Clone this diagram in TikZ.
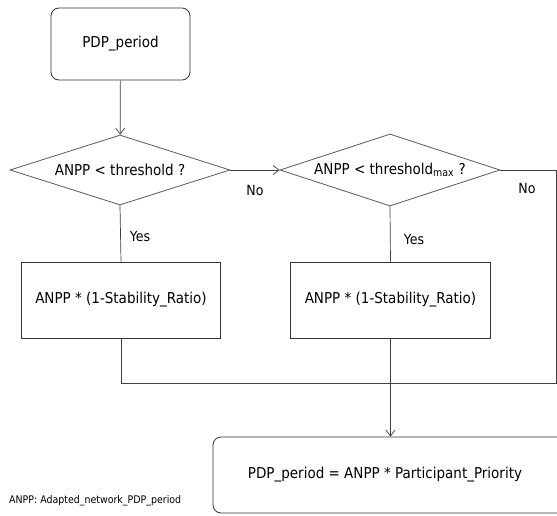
\documentclass[tikz,border=0pt]{standalone}
\usepackage{fontspec}
\setmainfont{DejaVu Sans Condensed}
\usetikzlibrary{shapes.geometric,arrows.meta}
\begin{document}
\begin{tikzpicture}[x=1pt,y=-1pt,
  every node/.style={font=\fontsize{15}{17}\selectfont, text=black},
  rbox/.style={draw=black!80, line width=0.8pt, rounded corners=8pt, inner sep=0pt},
  sbox/.style={draw=black!80, line width=0.8pt, inner sep=0pt},
  dia/.style={diamond, draw=black!65, line width=0.8pt, inner sep=0pt, aspect=3.1},
  lbl/.style={font=\fontsize{14}{16}\selectfont, inner sep=0pt},
  conn/.style={draw=black!75, line width=0.7pt},
  arr/.style={conn, -{Straight Barb[length=6pt,width=9pt]}}
]
\useasboundingbox (0,0) rectangle (557,516);
\clip (0,0) rectangle (557,516);
\fill[white] (0,0) rectangle (557,516);

\node[rbox, minimum width=139pt, minimum height=72pt] (start) at (120.5,44) {PDP\_period};
\node[dia, minimum width=220pt, minimum height=70pt] (d1) at (120,170) {ANPP < threshold ?};
\node[dia, minimum width=220pt, minimum height=72pt] (d2) at (390,170) {ANPP < threshold\textsubscript{max} ?};
\node[sbox, minimum width=199pt, minimum height=76pt] (b1) at (121,300) {ANPP * (1-Stability\_Ratio)};
\node[sbox, minimum width=200pt, minimum height=76pt] (b2) at (390.5,300) {ANPP * (1-Stability\_Ratio)};
\node[rbox, minimum width=355pt, minimum height=76pt] (res) at (390.5,475) {\hspace*{-11pt}PDP\_period = ANPP * Participant\_Priority};

\coordinate (rc) at (556,170);
\coordinate (jn) at (121,383);

\draw[arr] (start) -- (d1);
\draw[arr] (d1) -- (d2);
\draw[conn] (d1.south) -- (b1.north);
\draw[conn] (d2.south) -- (b2.north);
\draw[conn] (d2.east) -- (rc) |- (jn);
\draw[conn] (b1.south) -- (jn);
\draw[arr] (b2.south) -- (res.north -| b2.south);

\node[lbl] (no1) at (255,190) {No};
\node[lbl] (no2) at (527,188) {No};
\node[lbl] (yes1) at (140,236) {Yes};
\node[lbl] (yes2) at (414,239) {Yes};
\node[font=\fontsize{10.5}{12}\selectfont, inner sep=0pt, anchor=west] (note) at (9,501) {ANPP: Adapted\_network\_PDP\_period};
\end{tikzpicture}
\end{document}
